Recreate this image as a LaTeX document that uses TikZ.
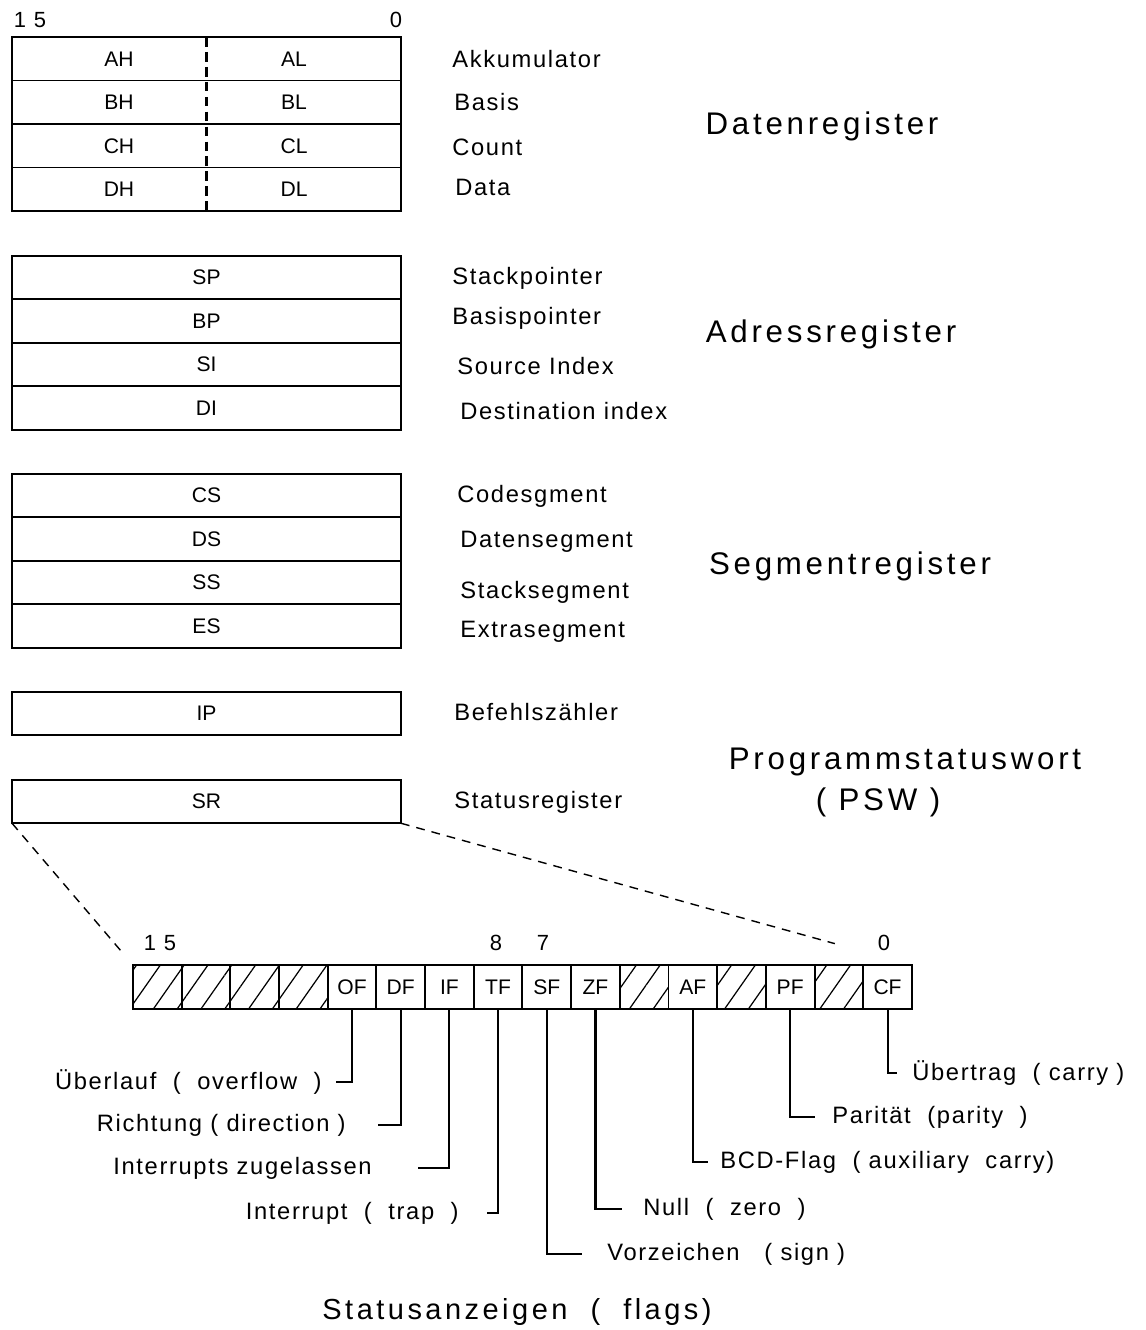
\documentclass[tikz,border=0pt]{standalone}
\usepackage{fontspec}
\setmainfont[LetterSpace=7]{Liberation Sans}
\newfontfamily\regfont{Liberation Sans}
\newfontfamily\titlefont[LetterSpace=12]{Liberation Sans}
\usetikzlibrary{positioning,calc,patterns.meta}
\tikzset{
	reg/.style = {draw, line width=1.1pt, minimum width=7.78cm, minimum height=0.87cm, inner sep=0pt, outer sep=0pt, font=\regfont\fontsize{12}{14}\selectfont}, % one 16-bit register
	regtxt/.style = {inner sep=0pt, font=\regfont\fontsize{12}{14}\selectfont},
	flag/.style = {draw, line width=1.1pt, minimum width=0.9738cm, minimum height=0.88cm, inner sep=0pt, outer sep=0pt, font=\regfont\fontsize{12}{14}\selectfont},
	blank/.style = {flag, pattern={Lines[angle=55, distance=0.39cm, line width=0.7pt]}}, % unused bit
	lbl/.style = {inner sep=0pt, font=\fontsize{13.5}{16}\selectfont},
	bitnum/.style = {inner sep=0pt, font=\fontsize{12.5}{14}\selectfont},
	title/.style = {inner sep=0pt, font=\titlefont\fontsize{17.8}{21}\selectfont},
	lead/.style = {line width=1.2pt},
	divider/.style = {line width=1.7pt, dash pattern=on 5.5pt off 3pt},
	zoomline/.style = {line width=0.8pt, dash pattern=on 5pt off 4pt}
}
\newcommand{\halfl}[1]{($(#1.west)!0.55!(#1.center)$)}
\newcommand{\halfr}[1]{($(#1.center)!0.45!(#1.east)$)}

\begin{document}
\begin{tikzpicture}[x=0.02cm, y=-0.02cm]
	\useasboundingbox (0,0) rectangle (1146,1330);
	% Datenregister
	\node[bitnum] (top15) at (30,20) {1 5};
	\node[bitnum] (top0) at (396,20) {0};
	\node[reg] (ra) at (206.5,58.75) {};
	\node[reg, below=0pt of ra] (rb) {};
	\node[reg, below=0pt of rb] (rc) {};
	\node[reg, below=0pt of rc] (rd) {};
	\draw[divider] (ra.north) -- (rd.south);
	\foreach \r/\h/\l in {ra/AH/AL, rb/BH/BL, rc/CH/CL, rd/DH/DL}{
		\node[regtxt] (\r h) at \halfl{\r} {\h};
		\node[regtxt] (\r l) at \halfr{\r} {\l};
	}
	\node[lbl, anchor=west] (lakku) at (452,59) {Akkumulator};
	\node[lbl, anchor=west] (lbasis) at (454,102) {Basis};
	\node[lbl, anchor=west] (lcount) at (452,147) {Count};
	\node[lbl, anchor=west] (ldata) at (455,187) {Data};
	\node[title] (tdaten) at (822,126) {Datenregister};

	% Adressregister
	\node[reg] (sp) at (206.5,277.6) {SP};
	\node[reg, below=0pt of sp] (bp) {BP};
	\node[reg, below=0pt of bp] (si) {SI};
	\node[reg, below=0pt of si] (di) {DI};
	\node[lbl, anchor=west] (lsp) at (452,278) {Stackpointer};
	\node[lbl, anchor=west] (lbp) at (452,318) {Basispointer};
	\node[lbl, anchor=west] (lsi) at (457,366) {Source Index};
	\node[lbl, anchor=west] (ldi) at (460,411) {Destination index};
	\node[title] (tadr) at (831,334) {Adressregister};

	% Segmentregister
	\node[reg] (cs) at (206.5,495.6) {CS};
	\node[reg, below=0pt of cs] (ds) {DS};
	\node[reg, below=0pt of ds] (ss) {SS};
	\node[reg, below=0pt of ss] (es) {ES};
	\node[lbl, anchor=west] (lcs) at (457,496) {Codesgment};
	\node[lbl, anchor=west] (lds) at (460,542) {Datensegment};
	\node[lbl, anchor=west] (lss) at (460,592) {Stacksegment};
	\node[lbl, anchor=west] (les) at (460,632) {Extrasegment};
	\node[title] (tseg) at (850,566) {Segmentregister};

	% IP und SR
	\node[reg] (ip) at (206.5,713.5) {IP};
	\node[reg] (sr) at (206.5,801.5) {SR};
	\node[lbl, anchor=west] (lip) at (454,712) {Befehlsz\"ahler};
	\node[lbl, anchor=west] (lsr) at (454,802) {Statusregister};
	\node[title] (tpsw) at (905,762) {Programmstatuswort};
	\node[title] (tpsw2) at (878,802) {( PSW )};

	% Flags
	\node[blank] (h15) at (157.35,987) {};
	\node[blank, right=0pt of h15] (h14) {};
	\node[blank, right=0pt of h14] (h13) {};
	\node[blank, right=0pt of h13] (h12) {};
	\node[flag, right=0pt of h12] (of) {OF};
	\node[flag, right=0pt of of] (df) {DF};
	\node[flag, right=0pt of df] (if) {IF};
	\node[flag, right=0pt of if] (tf) {TF};
	\node[flag, right=0pt of tf] (sf) {SF};
	\node[flag, right=0pt of sf] (zf) {ZF};
	\node[blank, right=0pt of zf] (h5) {};
	\node[flag, right=0pt of h5] (af) {AF};
	\node[blank, right=0pt of af] (h3) {};
	\node[flag, right=0pt of h3] (pf) {PF};
	\node[blank, right=0pt of pf] (h1) {};
	\node[flag, right=0pt of h1] (cf) {CF};
	\node[bitnum] (n15) at (160,943) {1 5};
	\node[bitnum] (n8) at (496,943) {8};
	\node[bitnum] (n7) at (543,943) {7};
	\node[bitnum] (n0) at (884,943) {0};

	\draw[zoomline, shorten >=0.26cm] (sr.south west) -- (h15.north west);
	\draw[zoomline, shorten >=1.6cm] (sr.south east) -- (cf.north east);

	\node[lbl, anchor=east] (lof) at (322,1082) {\"Uberlauf\ \ (\ \ overflow\ \ )};
	\node[lbl, anchor=east] (ldf) at (346,1125) {Richtung (\ direction\ )};
	\node[lbl, anchor=east] (lif) at (372,1168) {Interrupts zugelassen};
	\node[lbl, anchor=east] (ltf) at (459,1213) {Interrupt\ \ (\ \ trap\ \ )};
	\node[lbl, anchor=west] (lsf) at (607,1254) {Vorzeichen\ \ \ (\ sign\ )};
	\node[lbl, anchor=west] (lzf) at (643,1209) {Null\ \ (\ \ zero\ \ )};
	\node[lbl, anchor=west] (laf) at (720,1162) {BCD-Flag\ \ (\ auxiliary\ \ carry)};
	\node[lbl, anchor=west] (lpf) at (832,1117) {Parit\"at\ \ (parity\ \ )};
	\node[lbl, anchor=west] (lcf) at (912,1073) {\"Ubertrag\ \ (\ carry\ )};
	\draw[lead] (of.south) |- ($(lof.east)+(14,0)$);
	\draw[lead] (df.south) |- ($(ldf.east)+(32,0)$);
	\draw[lead] (if.south) |- ($(lif.east)+(46,0)$);
	\draw[lead] (tf.south) |- ($(ltf.east)+(28,0)$);
	\draw[lead] (sf.south) |- ($(lsf.west)+(-25,0)$);
	\draw[lead] (zf.south) |- ($(lzf.west)+(-21,0)$);
	\draw[lead] (af.south) |- ($(laf.west)+(-12,0)$);
	\draw[lead] (pf.south) |- ($(lpf.west)+(-17,0)$);
	\draw[lead] (cf.south) |- ($(lcf.west)+(-15,0)$);

	\node[title, font=\titlefont\fontsize{16.5}{19}\selectfont] (tflags) at (517,1312) {Statusanzeigen\ \ (\ \ flags)};
\end{tikzpicture}
\end{document}
